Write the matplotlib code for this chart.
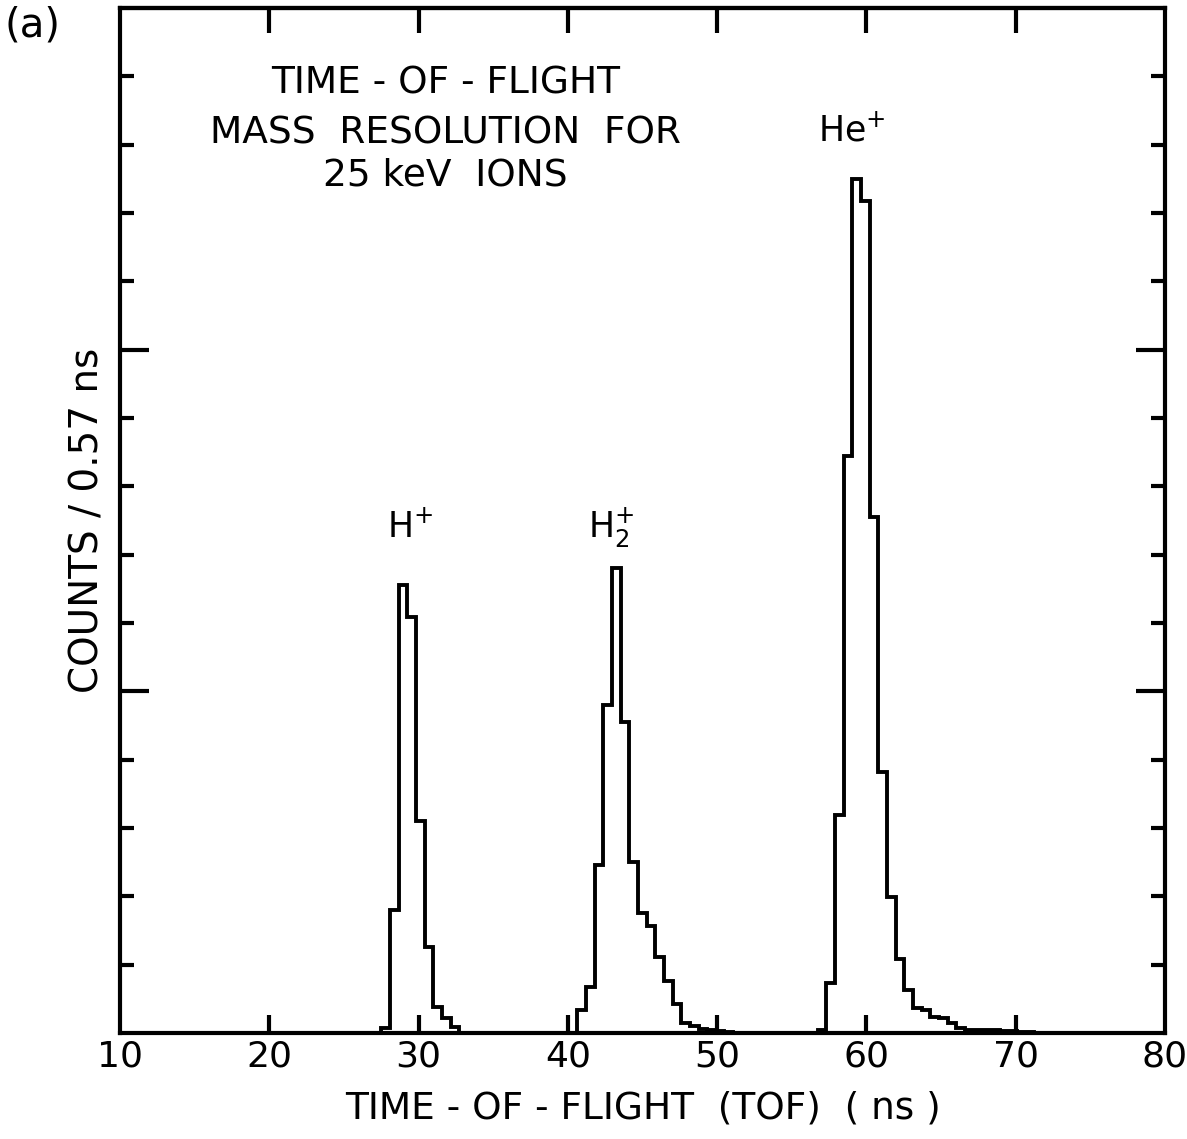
import numpy as np
import matplotlib
matplotlib.use("Agg")
import matplotlib.pyplot as plt
from matplotlib.ticker import FixedLocator

plt.rcParams['font.family'] = ['DejaVu Sans']
plt.rcParams['mathtext.default'] = 'regular'

# ---- data (counts per bin, in units of minor y-ticks) ----
bin_width = 0.58          # ns, drawn bin width
h_start = 27.50
h_counts = [0.07, 1.80, 6.56, 6.09, 3.10, 1.26, 0.38, 0.22, 0.09]
h2_start = 40.63
h2_counts = [0.34, 0.67, 2.46, 4.80, 6.80, 4.55, 2.50, 1.76, 1.57, 1.11,
             0.76, 0.42, 0.15, 0.10, 0.06, 0.04, 0.03, 0.02]
he_start = 56.74
he_counts = [0.05, 0.73, 3.19, 8.45, 12.50, 12.18, 7.55, 3.82, 1.99, 1.08,
             0.63, 0.36, 0.33, 0.24, 0.22, 0.15, 0.07, 0.05, 0.05, 0.04,
             0.04, 0.03, 0.03, 0.02, 0.02]

x_ticks = [10, 20, 30, 40, 50, 60, 70, 80]
x_tick_labels = ["10", "20", "30", "40", "50", "60", "70", "80"]
y_major = [5, 10]
y_minor = [1, 2, 3, 4, 6, 7, 8, 9, 11, 12, 13, 14]

title_lines = ["TIME - OF - FLIGHT", "MASS  RESOLUTION  FOR", "25 keV  IONS"]

fig = plt.figure(figsize=(11.87, 11.39), dpi=100)
ax = fig.add_axes([0.1011, 0.0931, 0.8804, 0.8999])

lw = 2.8
for start, counts in [(h_start, h_counts), (h2_start, h2_counts), (he_start, he_counts)]:
    edges = start + bin_width * np.arange(len(counts) + 1)
    ax.stairs(counts, edges, baseline=0, color='black', linewidth=lw)

ax.set_xlim(10, 80)
ax.set_ylim(0, 15)

for sp in ax.spines.values():
    sp.set_linewidth(3.0)

# y ticks on both sides, inward, no labels
ax.yaxis.set_major_locator(FixedLocator(y_major))
ax.yaxis.set_minor_locator(FixedLocator(y_minor))
ax.tick_params(axis='y', which='major', direction='in', length=21, width=3,
               left=True, right=True, labelleft=False)
ax.tick_params(axis='y', which='minor', direction='in', length=10, width=3,
               left=True, right=True)

# x ticks: bottom inward (only interior), labels at all
ax.set_xticks(x_ticks)
ax.set_xticklabels(x_tick_labels, fontsize=26)
ax.tick_params(axis='x', which='major', direction='in', length=13, width=3,
               bottom=True, top=False, pad=5)
for t in ax.xaxis.get_major_ticks():
    if t.get_loc() in (10, 80):
        t.tick1line.set_visible(False)

top = ax.secondary_xaxis('top')
top.set_xticks(x_ticks[1:-1])
top.tick_params(axis='x', direction='in', length=18, width=3, labeltop=False)
top.spines['top'].set_linewidth(3.0)

ax.set_xlabel("TIME - OF - FLIGHT  (TOF)  ( ns )", fontsize=27, labelpad=12)
ax.set_ylabel("COUNTS / 0.57 ns", fontsize=28, labelpad=6)

# title block
title_y = [13.89, 13.16, 12.55]
for line, yy in zip(title_lines, title_y):
    ax.text(31.8, yy, line, fontsize=27, ha='center', va='center')

# peak labels
ax.text(29.4, 7.4, r"H$^{+}$", fontsize=25, ha='center', va='center')
ax.text(42.9, 7.4, r"H$_2^{+}$", fontsize=25, ha='center', va='center')
ax.text(59.0, 13.2, r"He$^{+}$", fontsize=25, ha='center', va='center')

fig.text(0.027, 0.978, "(a)", fontsize=29, ha='center', va='center')

fig.savefig("out.png", dpi=100)
